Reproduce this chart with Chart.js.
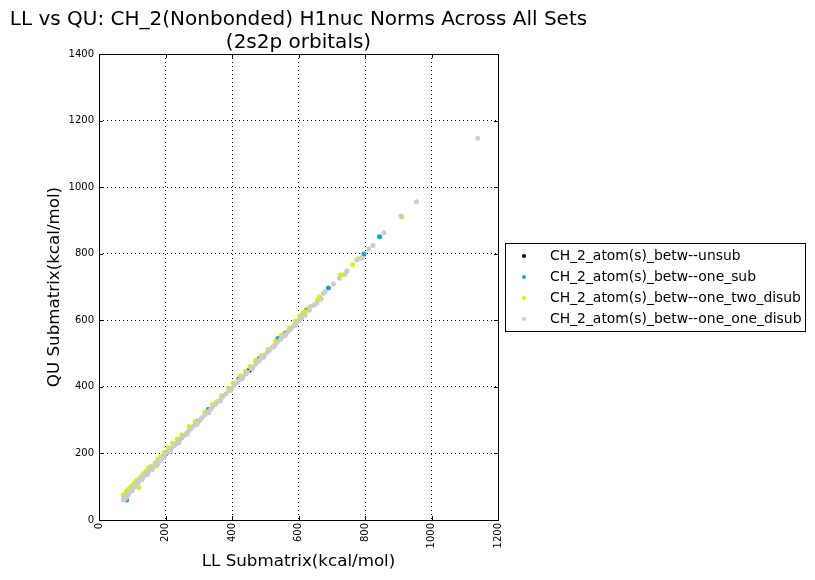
<!DOCTYPE html>
<html>
<head>
<meta charset="utf-8">
<title>LL vs QU</title>
<script src="https://cdn.jsdelivr.net/npm/chart.js@4.4.0/dist/chart.umd.min.js"></script>
<style>
  body { margin: 0; background: #fff; }
  #wrap { width: 815px; height: 580px; }
</style>
</head>
<body>
<div id="wrap"><canvas id="grafico" width="815" height="580"></canvas></div>
<script>
const tituloLinhas = ["LL vs QU: CH_2(Nonbonded) H1nuc Norms Across All Sets", "(2s2p orbitals)"]
const nomesSeries = [
  "CH_2_atom(s)_betw--unsub",
  "CH_2_atom(s)_betw--one_sub",
  "CH_2_atom(s)_betw--one_two_disub",
  "CH_2_atom(s)_betw--one_one_disub"
]
const coresSeries = ["#000000", "#17a3c4", "#d4f500", "#cccccc"]

const xTicks = [0, 200, 400, 600, 800, 1000, 1200]
const yTicks = [0, 200, 400, 600, 800, 1000, 1200, 1400]

// LL (x) e QU (y)
const unsubLL = [80, 118, 201, 298, 452, 560]
const unsubQU = [63, 116, 199, 297, 450, 558]

const oneSubLL = [83, 109, 151, 231, 329, 421, 482, 538, 561, 614, 624, 690, 797, 844]
const oneSubQU = [60, 107, 150, 229, 333, 424, 485, 545, 562, 621, 631, 697, 799, 851]

const oneTwoLL = [73, 76, 80, 83, 87, 91, 95, 98, 102, 107, 112, 118, 120, 127, 134, 141, 149, 156, 161, 169, 173, 177, 185, 196, 209, 221, 236, 249, 271, 289, 301, 318, 341, 353, 369, 389, 404, 426, 441, 454, 471, 489, 509, 531, 549, 572, 591, 604, 613, 620, 631, 658, 663, 726, 737, 763, 779, 911]
const oneTwoQU = [75, 70, 81, 87, 90, 93, 99, 91, 105, 112, 118, 122, 98, 131, 140, 146, 156, 161, 158, 172, 162, 183, 191, 203, 216, 231, 243, 256, 281, 295, 298, 324, 347, 355, 373, 395, 411, 433, 447, 461, 479, 494, 513, 537, 556, 577, 597, 612, 619, 626, 637, 662, 671, 736, 737, 767, 785, 910]

const oneOneLL = [73, 75, 78, 79, 82, 85, 86, 89, 92, 94, 97, 101, 103, 106, 109, 111, 114, 117, 119, 123, 125, 128, 131, 134, 138, 140, 143, 147, 151, 153, 158, 161, 165, 169, 172, 176, 181, 184, 189, 192, 198, 203, 207, 213, 218, 225, 231, 236, 243, 249, 254, 262, 269, 277, 283, 291, 298, 306, 311, 319, 327, 336, 342, 351, 358, 367, 375, 382, 391, 399, 407, 416, 423, 432, 441, 447, 457, 463, 472, 481, 487, 497, 505, 512, 521, 529, 536, 546, 553, 561, 569, 577, 584, 593, 601, 609, 617, 632, 639, 648, 655, 675, 680, 705, 723, 741, 746, 775, 790, 811, 824, 857, 908, 955, 1139,
  88, 100, 115, 130, 146, 160, 178, 196, 215, 240, 265, 295, 330, 365, 395, 430, 460, 495, 525, 560, 590, 620, 650, 668]
const oneOneQU = [60, 66, 63, 71, 68, 74, 78, 80, 84, 86, 91, 94, 98, 100, 105, 107, 111, 113, 117, 120, 122, 126, 128, 132, 135, 138, 140, 145, 148, 151, 155, 159, 162, 167, 169, 174, 178, 182, 186, 190, 195, 201, 204, 210, 216, 222, 229, 233, 241, 246, 252, 259, 267, 274, 281, 288, 296, 303, 309, 316, 325, 333, 340, 348, 356, 364, 373, 379, 389, 396, 405, 413, 421, 429, 439, 444, 455, 460, 470, 478, 485, 494, 503, 509, 519, 526, 534, 543, 551, 558, 567, 574, 582, 590, 599, 606, 615, 630, 643, 646, 652, 681, 686, 709, 726, 741, 748, 781, 786, 814, 825, 863, 913, 956, 1147,
  76, 88, 104, 122, 137, 152, 170, 188, 206, 232, 257, 288, 322, 358, 388, 424, 454, 489, 520, 554, 585, 615, 648, 663]

function montarPontos(ll, qu) {
  return ll.map((v, i) => ({ x: v, y: qu[i] }))
}

const pontosSeries = [
  montarPontos(unsubLL, unsubQU),
  montarPontos(oneSubLL, oneSubQU),
  montarPontos(oneTwoLL, oneTwoQU),
  montarPontos(oneOneLL, oneOneQU)
]

Chart.defaults.font.family = "'DejaVu Sans', sans-serif"
Chart.defaults.color = "#000"

// titulo, moldura, ticks internos e legenda no estilo matplotlib
const estiloMpl = {
  id: "estiloMpl",
  afterDraw(chart) {
    const ctx = chart.ctx
    const area = chart.chartArea
    const sx = chart.scales.x
    const sy = chart.scales.y

    ctx.save()
    ctx.strokeStyle = "#000"
    ctx.lineWidth = 1
    ctx.setLineDash([])
    ctx.beginPath()
    xTicks.forEach(v => {
      const px = Math.round(sx.getPixelForValue(v)) + 0.5
      ctx.moveTo(px, area.bottom); ctx.lineTo(px, area.bottom - 4)
      ctx.moveTo(px, area.top); ctx.lineTo(px, area.top + 4)
    })
    yTicks.forEach(v => {
      const py = Math.round(sy.getPixelForValue(v)) + 0.5
      ctx.moveTo(area.left, py); ctx.lineTo(area.left + 4, py)
      ctx.moveTo(area.right, py); ctx.lineTo(area.right - 4, py)
    })
    ctx.stroke()
    ctx.strokeRect(Math.round(area.left) + 0.5, Math.round(area.top) + 0.5,
      Math.round(area.right - area.left), Math.round(area.bottom - area.top))

    ctx.fillStyle = "#000"
    ctx.textAlign = "center"
    ctx.textBaseline = "middle"
    ctx.font = "20px 'DejaVu Sans'"
    const cx = (area.left + area.right) / 2
    ctx.fillText(tituloLinhas[0], cx, 20)
    ctx.fillText(tituloLinhas[1], cx, 43)

    // legenda
    const lx = 505, ly = 243
    ctx.strokeRect(lx + 0.5, ly + 0.5, 300, 88)
    ctx.font = "13.9px 'DejaVu Sans'"
    ctx.textAlign = "left"
    nomesSeries.forEach((nome, i) => {
      const y = ly + 13 + i * 21
      ctx.fillStyle = coresSeries[i]
      ctx.beginPath()
      ctx.arc(lx + 19, y, 2, 0, Math.PI * 2)
      ctx.fill()
      ctx.fillStyle = "#000"
      ctx.fillText(nome, lx + 45, y)
    })
    ctx.restore()
  }
}

new Chart(document.getElementById("grafico"), {
  type: "scatter",
  data: {
    datasets: pontosSeries.map((pts, i) => ({
      label: nomesSeries[i],
      data: pts,
      backgroundColor: coresSeries[i],
      borderWidth: 0,
      pointRadius: 2.5,
      pointHoverRadius: 2.5,
      order: 4 - i
    }))
  },
  options: {
    responsive: false,
    animation: false,
    devicePixelRatio: 1,
    layout: { padding: { top: 54, right: 317, bottom: 0, left: 0 } },
    plugins: {
      legend: { display: false },
      title: { display: false },
      tooltip: { enabled: false }
    },
    scales: {
      x: {
        type: "linear",
        min: 0,
        max: 1200,
        afterFit: s => { s.height = 60 },
        afterBuildTicks: s => { s.ticks = xTicks.map(v => ({ value: v })) },
        ticks: { minRotation: 90, maxRotation: 90, padding: 3, font: { size: 10 }, callback: v => String(v) },
        grid: { color: "#000", lineWidth: 1, drawTicks: false },
        border: { display: false, dash: [1, 3] },
        title: { display: true, text: "LL Submatrix(kcal/mol)", font: { size: 16.7 }, padding: { top: 0, bottom: 8 } }
      },
      y: {
        type: "linear",
        min: 0,
        max: 1400,
        afterFit: s => { s.width = 99 },
        afterBuildTicks: s => { s.ticks = yTicks.map(v => ({ value: v })) },
        ticks: { padding: 5, font: { size: 10 }, callback: v => String(v) },
        grid: { color: "#000", lineWidth: 1, drawTicks: false },
        border: { display: false, dash: [1, 3] },
        title: { display: true, text: "QU Submatrix(kcal/mol)", font: { size: 16.7 }, padding: { top: 45, bottom: 0 } }
      }
    }
  },
  plugins: [estiloMpl]
})
</script>
</body>
</html>
